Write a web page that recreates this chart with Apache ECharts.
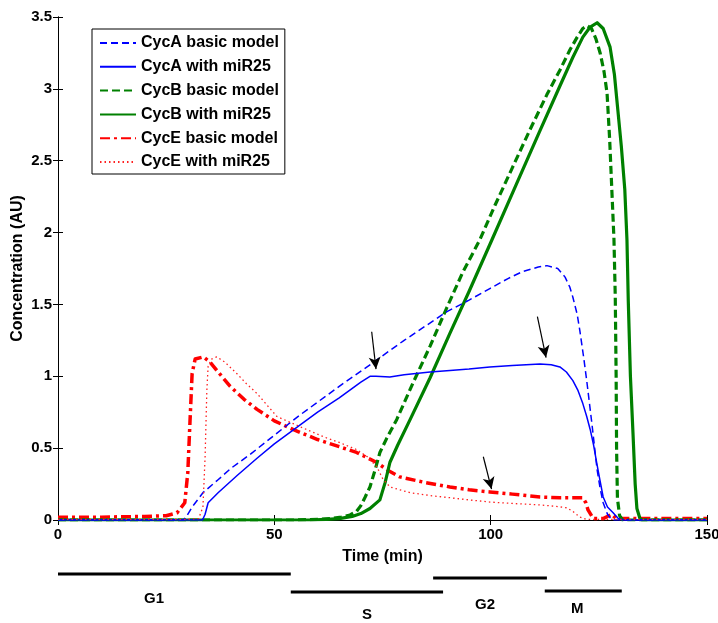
<!DOCTYPE html>
<html>
<head>
<meta charset="utf-8">
<script src="https://cdn.jsdelivr.net/npm/echarts@6/dist/echarts.min.js"></script>
<style>
html,body{margin:0;padding:0;background:#fff;}
#chart{width:718px;height:623px;}
</style>
</head>
<body>
<div id="chart"></div>
<script>
// ---- data (time in min, concentration in AU) ----
var cycABasic = [[0,0],[29,0],[29.8,0.03],[31,0.09],[33.5,0.19],[37,0.28],[40,0.36],[45,0.47],[50,0.59],[55.9,0.73],[60,0.82],[65,0.93],[72.1,1.08],[80,1.25],[89.9,1.45],[95,1.53],[99.8,1.61],[104,1.68],[107.5,1.73],[111,1.76],[113,1.77],[115.5,1.75],[117.2,1.69],[118.3,1.62],[119,1.55],[120,1.43],[120.6,1.32],[121.5,1.13],[122.2,0.97],[123.4,0.67],[124.6,0.35],[125.3,0.22],[126,0.12],[127,0.04],[128,0],[150,0]];
var cycAmiR = [[0,0],[33.4,0],[34,0.04],[34.7,0.12],[37,0.19],[41.4,0.31],[46,0.43],[50,0.53],[55.9,0.66],[60,0.75],[65,0.85],[70,0.96],[72.1,1.0],[73.5,1.0],[76.7,0.995],[80,1.01],[86,1.03],[90.6,1.04],[95,1.05],[99.8,1.065],[105,1.075],[111.4,1.085],[114,1.08],[116,1.065],[117.5,1.03],[119,0.97],[120.2,0.9],[121.3,0.81],[122.2,0.72],[123,0.63],[123.8,0.52],[124.5,0.4],[125.3,0.27],[126,0.16],[127,0.09],[128.3,0.05],[129.5,0.01],[130.5,0],[150,0]];
var cycBBasic = [[0,0],[55,0],[60,0.005],[63,0.01],[65.5,0.02],[67.5,0.035],[69,0.06],[70,0.1],[71,0.16],[72.1,0.23],[73.3,0.35],[74.4,0.47],[76,0.57],[78.3,0.7],[82,0.95],[86,1.21],[89.9,1.48],[93.5,1.72],[97.5,1.95],[101,2.19],[105,2.45],[109,2.71],[113,2.96],[116,3.13],[118.3,3.27],[120,3.36],[121.3,3.42],[122.3,3.44],[123.3,3.42],[124.3,3.35],[125.3,3.25],[126.2,3.12],[126.9,2.97],[127.5,2.65],[128,2.3],[128.5,1.95],[128.8,1.55],[129,1.0],[129.1,0.5],[129.3,0.15],[129.8,0.03],[130.5,0],[150,0]];
var cycBmiR = [[0,0],[58,0],[62,0.005],[65,0.01],[68,0.025],[70,0.045],[72.1,0.08],[74.4,0.14],[75.6,0.26],[76.7,0.4],[78.5,0.52],[81.4,0.7],[86,0.99],[90.6,1.3],[95,1.59],[100.3,1.95],[106,2.34],[111.4,2.71],[116,3.02],[119,3.22],[121.3,3.36],[123,3.43],[124.6,3.46],[126,3.42],[127.6,3.29],[128.6,3.1],[129.4,2.85],[130.2,2.6],[131,2.3],[131.5,1.95],[131.8,1.53],[132.3,1.0],[132.9,0.6],[133.4,0.25],[133.8,0.08],[134.5,0.01],[135,0],[150,0]];
var cycEBasic = [[0,0.02],[10,0.02],[20,0.025],[25,0.03],[27.5,0.05],[29.3,0.12],[30,0.33],[30.5,0.68],[31,1.02],[31.7,1.12],[33.6,1.135],[35.1,1.1],[37,1.03],[39.8,0.93],[43,0.84],[46,0.77],[50,0.69],[54.3,0.63],[60,0.56],[65,0.51],[69,0.47],[73.7,0.4],[76,0.35],[79,0.3],[85,0.26],[90.6,0.23],[95,0.21],[99.8,0.195],[105,0.18],[111.4,0.16],[116,0.155],[121.3,0.155],[122,0.12],[122.5,0.07],[123.7,0.01],[126,0.01],[128,0.04],[129,0.01],[135,0.01],[150,0.01]];
var cycEmiR = [[0,0.005],[30,0.005],[32.5,0.01],[33.5,0.09],[34,0.44],[34.4,0.9],[34.7,1.07],[35.5,1.12],[36.7,1.135],[38.5,1.1],[41.3,1.02],[43.5,0.95],[46,0.88],[50.6,0.72],[55.9,0.65],[61.3,0.58],[65,0.54],[69,0.49],[71.5,0.44],[73.7,0.37],[75,0.29],[76.7,0.23],[79,0.21],[81.4,0.19],[86,0.17],[90.6,0.155],[95,0.14],[99.8,0.125],[105,0.115],[111.4,0.105],[115,0.095],[117.6,0.085],[119,0.06],[120.6,0.02],[122,0.005],[150,0.005]];

var seriesNames = ['CycA basic model','CycA with miR25','CycB basic model','CycB with miR25','CycE basic model','CycE with miR25'];

// arrows (data coordinates): from -> to
var arrowFrom = [[72.5,1.31],[110.8,1.415],[98.3,0.44]];
var arrowTo   = [[73.5,1.05],[112.8,1.13],[100.2,0.215]];

// cell-cycle phases (time in min), bar row and label row in the phase strip
var phaseNames = ['G1','S','G2','M'];
var phaseStart = [0, 53.8, 86.7, 112.5];
var phaseEnd   = [53.8, 89.0, 113.0, 130.3];
var phaseRow   = [0.7, 1.6, 0.9, 1.55];
var labelTime  = [22.2, 71.4, 98.7, 120];
var labelRow   = [1.95, 2.75, 2.25, 2.45];

var xTicks = {min:0, max:150, interval:50};
var yTicks = {min:0, max:3.5, interval:0.5};

var FONT = 'Liberation Sans';

var chart = echarts.init(document.getElementById('chart'), null, {renderer:'canvas'});

var axisLineStyle = {color:'#000', width:1};
var series = [];
var styles = [
  {color:'#0000ff', width:1.5, type:[7,4]},
  {color:'#0000ff', width:1.5, type:'solid'},
  {color:'#008000', width:3.2, type:[8,4]},
  {color:'#008000', width:3.2, type:'solid'},
  {color:'#ff0000', width:3.5, type:[10,4,3,4]},
  {color:'#ff2020', width:1.3, type:[1.5,3]}
];
var datas = [cycABasic, cycAmiR, cycBBasic, cycBmiR, cycEBasic, cycEmiR];
// draw order: thin lines over thick
var order = [4,2,3,0,1,5];
order.forEach(function(i){
  series.push({
    name: seriesNames[i], type:'line', xAxisIndex:0, yAxisIndex:0,
    data: datas[i], symbol:'none', showSymbol:false, smooth:false,
    lineStyle: {color:styles[i].color, width:styles[i].width, type:styles[i].type, join:'round'},
    itemStyle: {color:styles[i].color},
    z: 3, silent:true
  });
});

// arrows
series.push({
  name:'arrows', type:'line', xAxisIndex:0, yAxisIndex:0, data:[], symbol:'none',
  markLine:{
    silent:true, symbol:['none','arrow'], symbolSize:[9,12],
    label:{show:false},
    lineStyle:{color:'#000', width:1.2, type:'solid'},
    data: arrowFrom.map(function(f,k){ return [{coord:f},{coord:arrowTo[k]}]; })
  },
  z:5
});

// phase bars
phaseNames.forEach(function(n,k){
  series.push({
    name:'phase '+n, type:'line', xAxisIndex:2, yAxisIndex:2,
    data:[[phaseStart[k],phaseRow[k]],[phaseEnd[k],phaseRow[k]]],
    symbol:'none', lineStyle:{color:'#000', width:3}, silent:true
  });
});
series.push({
  name:'phase labels', type:'scatter', xAxisIndex:2, yAxisIndex:2,
  symbolSize:0, itemStyle:{opacity:1, color:'#000'},
  data: phaseNames.map(function(n,k){ return {value:[labelTime[k],labelRow[k]], name:n}; }),
  label:{show:true, position:'inside', formatter:'{b}', color:'#000', opacity:1,
    fontFamily:FONT, fontWeight:'bold', fontSize:15},
  silent:true
});

var option = {
  animation:false,
  backgroundColor:'#fff',
  textStyle:{fontFamily:FONT},
  grid:[
    {left:58, right:11, top:17, bottom:103, show:false, containLabel:false, outerBoundsMode:'none'},
    {left:58, right:11, top:560, height:60, show:false, containLabel:false, outerBoundsMode:'none'}
  ],
  legend:{
    data: seriesNames,
    orient:'vertical', left:92, top:29,
    padding:[6,6,4,7],
    itemWidth:36, itemHeight:16, itemGap:7.8,
    itemStyle:{opacity:0},
    borderColor:'#000', borderWidth:1, backgroundColor:'#fff',
    textStyle:{fontFamily:FONT, fontWeight:'bold', fontSize:16, color:'#000'},
    selectedMode:false
  },
  xAxis:[
    {type:'value', gridIndex:0, min:xTicks.min, max:xTicks.max, interval:xTicks.interval,
     name:'Time (min)', nameLocation:'middle', nameGap:29, nameMoveOverlap:false,
     nameTextStyle:{fontFamily:FONT, fontWeight:'bold', fontSize:16, color:'#000'},
     axisLine:{show:true, lineStyle:axisLineStyle}, axisTick:{show:true, inside:true, length:5, lineStyle:{color:'#000'}},
     axisLabel:{show:true, margin:7, fontFamily:FONT, fontWeight:'bold', fontSize:15, color:'#000'},
     splitLine:{show:false}},
    {type:'value', gridIndex:0, position:'top', min:xTicks.min, max:xTicks.max, interval:xTicks.interval,
     axisLine:{show:true, lineStyle:axisLineStyle}, axisTick:{show:true, inside:true, length:5, lineStyle:{color:'#000'}},
     axisLabel:{show:false}, splitLine:{show:false}},
    {type:'value', gridIndex:1, min:0, max:150, show:false}
  ],
  yAxis:[
    {type:'value', gridIndex:0, min:yTicks.min, max:yTicks.max, interval:yTicks.interval,
     name:'Concentration (AU)', nameLocation:'middle', nameGap:32, nameRotate:90, nameMoveOverlap:false,
     nameTextStyle:{fontFamily:FONT, fontWeight:'bold', fontSize:16, color:'#000'},
     axisLine:{show:true, lineStyle:axisLineStyle}, axisTick:{show:true, inside:true, length:5, lineStyle:{color:'#000'}},
     axisLabel:{show:true, margin:6, fontFamily:FONT, fontWeight:'bold', fontSize:15, color:'#000'},
     splitLine:{show:false}},
    {type:'value', gridIndex:0, position:'right', min:yTicks.min, max:yTicks.max, interval:yTicks.interval,
     axisLine:{show:true, lineStyle:axisLineStyle}, axisTick:{show:true, inside:true, length:5, lineStyle:{color:'#000'}},
     axisLabel:{show:false}, splitLine:{show:false}},
    {type:'value', gridIndex:1, min:0, max:3, inverse:true, show:false}
  ],
  series: series
};
chart.setOption(option);
</script>
</body>
</html>
